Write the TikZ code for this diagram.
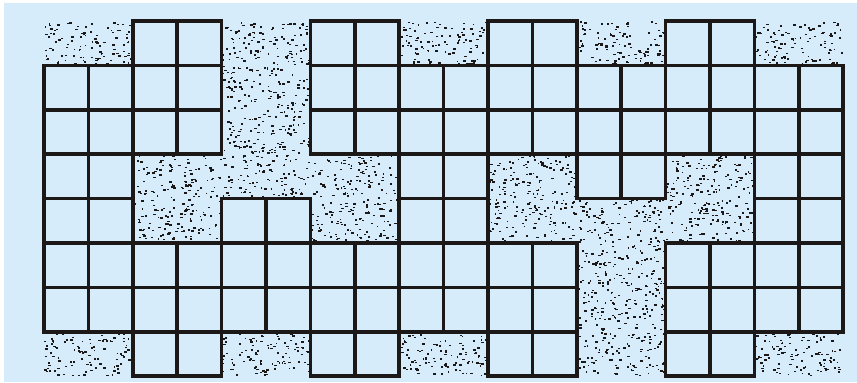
\documentclass[tikz,border=0pt]{standalone}
\usepackage{tikz}

\definecolor{paleblue}{RGB}{214,236,250}
\definecolor{inkblack}{RGB}{28,24,24}

\begin{document}
\begin{tikzpicture}[x=1cm, y=1cm,
  cellbox/.style={draw=inkblack, fill=paleblue, line width=2.4pt, line join=miter},
  speck/.style={fill=inkblack},
]
\useasboundingbox (-0.991,-8.131) rectangle (18.311,0.473);
\fill[white] (-0.991,-8.131) rectangle (18.311,0.473);
\fill[paleblue] (-0.9,-8.131) rectangle (18.311,0.405);
% stippled cells
\pgfmathsetseed{17}
\foreach \r/\cols in {0/{0,1,4,5,8,9,12,13,16,17}, 1/{4,5}, 2/{4,5},
    3/{2,3,4,5,6,7,10,11,14,15}, 4/{2,3,6,7,10,11,12,13,14,15},
    5/{12,13}, 6/{12,13}, 7/{0,1,4,5,8,9,12,13,16,17}}{
  \foreach \c in \cols {
    \foreach \k in {1,...,52}{
      \pgfmathsetmacro{\dx}{\c+0.96*rnd}
      \pgfmathsetmacro{\dy}{-\r-0.04-0.96*rnd}
      \pgfmathsetmacro{\dw}{0.03+0.035*rnd}
      \fill[speck] (\dx,\dy) rectangle ++(\dw,0.034);
    }
  }
}
% open cells
\foreach \r/\cols in {0/{2,3,6,7,10,11,14,15},
    1/{0,1,2,3,6,7,8,9,10,11,12,13,14,15,16,17},
    2/{0,1,2,3,6,7,8,9,10,11,12,13,14,15,16,17},
    3/{0,1,8,9,12,13,16,17}, 4/{0,1,4,5,8,9,16,17},
    5/{0,1,2,3,4,5,6,7,8,9,10,11,14,15,16,17},
    6/{0,1,2,3,4,5,6,7,8,9,10,11,14,15,16,17},
    7/{2,3,6,7,10,11,14,15}}{
  \foreach \c in \cols
    \draw[cellbox] (\c,-\r) rectangle ++(1,-1);
}
\end{tikzpicture}
\end{document}
